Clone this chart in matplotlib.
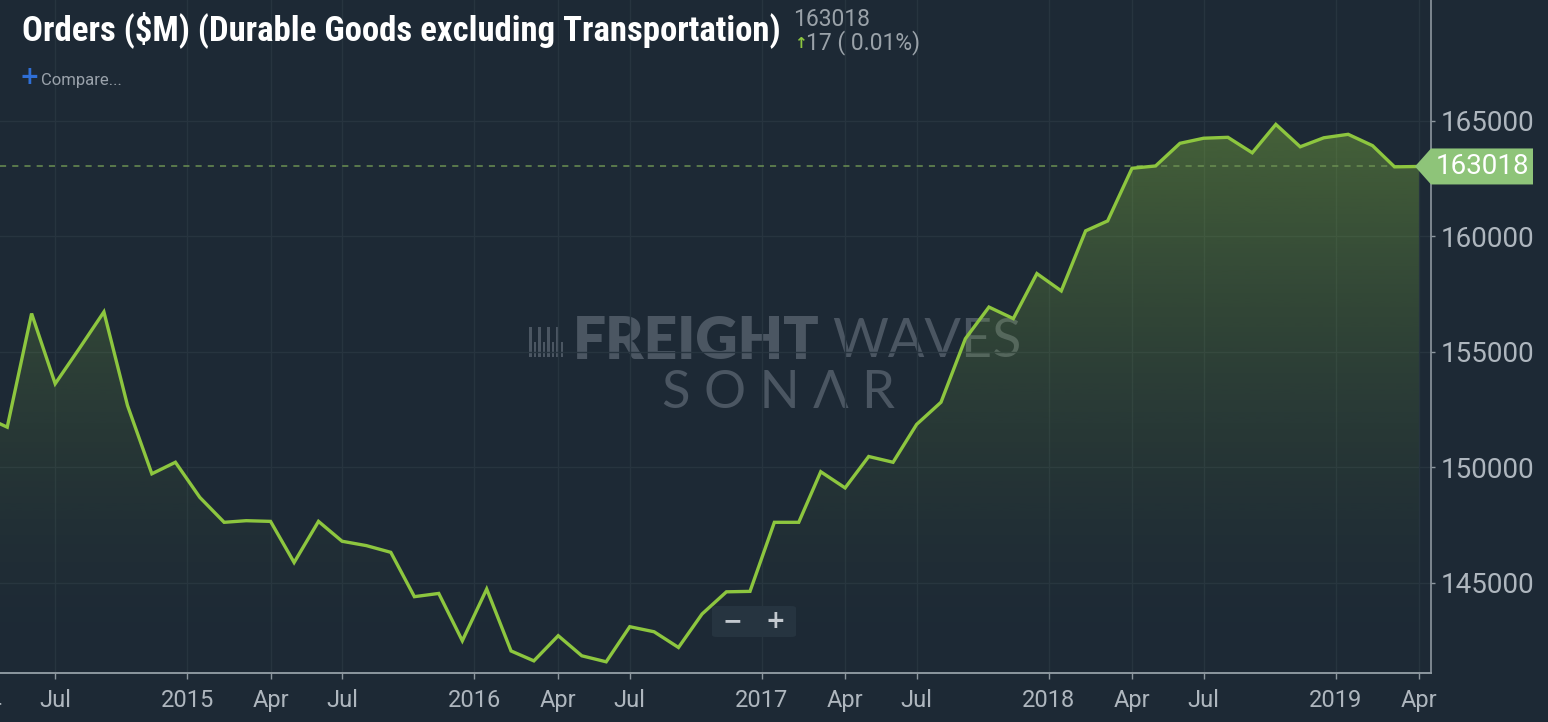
import matplotlib
matplotlib.use('Agg')
import matplotlib.pyplot as plt
import matplotlib.dates as mdates
import numpy as np
import pandas as pd
from matplotlib import font_manager
from matplotlib.patches import Polygon, Rectangle, FancyBboxPatch
from matplotlib.transforms import blended_transform_factory

# monthly orders, $M (durable goods ex transportation), Apr 2014 .. Apr 2019
months = pd.date_range('2014-04-01', '2019-04-01', freq='MS')
orders = [
    152200, 151730, 156650, 153610, 155150, 156720, 152670, 149710, 150210,
    148690, 147610, 147680, 147650, 145870, 147650, 146790, 146600, 146310, 144390, 144530, 142480,
    144720, 142040, 141610, 142700, 141830, 141570, 143090, 142870, 142190, 143640, 144600, 144620,
    147610, 147610, 149800, 149100, 150460, 150210, 151850, 152810, 155560, 156930, 156430, 158380,
    157630, 160230, 160660, 162940, 163040, 164020, 164240, 164280, 163610, 164840, 163870, 164260,
    164410, 163920, 163001, 163018,
]
last_value = 163018
change = 17
change_pct = 0.01

month_tick_dates = ['2014-07-01', '2015-04-01', '2015-07-01', '2016-04-01', '2016-07-01',
                    '2017-04-01', '2017-07-01', '2018-04-01', '2018-07-01', '2019-04-01']
month_tick_labels = ['Jul', 'Apr', 'Jul', 'Apr', 'Jul', 'Apr', 'Jul', 'Apr', 'Jul', 'Apr']
year_ticks = [2015, 2016, 2017, 2018, 2019]
y_ticks = [145000, 150000, 155000, 160000, 165000]

BG = '#1d2935'
GRID = '#27343f'
GREEN = '#8dc63f'
TICK_TXT = '#aeb6be'

W, H = 1548, 722
fig = plt.figure(figsize=(W / 100, H / 100), dpi=100, facecolor=BG)
ax = fig.add_axes([0, (H - 673) / H, 1431 / W, 673 / H])
ax.set_facecolor(BG)


def pick_narrow_bold():
    best = None
    for f in font_manager.fontManager.ttflist:
        wt = f.weight if isinstance(f.weight, int) else font_manager.weight_dict.get(f.weight, 400)
        narrow = ('Narrow' in f.name or 'Condensed' in f.name or
                  f.stretch in ('condensed', 'semi-condensed', 'extra-condensed', 'ultra-condensed'))
        if narrow and wt >= 600 and f.style == 'normal':
            rank = 0 if 'Roboto' in f.name else 1 if 'Liberation' in f.name else 2
            if best is None or rank < best[0]:
                best = (rank, f.fname)
    if best:
        return font_manager.FontProperties(fname=best[1])
    return font_manager.FontProperties(family='Roboto', weight='bold')


x = mdates.date2num(months)
y = np.array(orders, dtype=float)

x_ref = mdates.date2num(pd.Timestamp('2014-07-01'))
xmin, xmax = x_ref - 70.2, x_ref + 1750.4
ymin, ymax = 141085, 170226

# gradient area under the line
verts = np.column_stack([np.r_[x[0], x, x[-1]], np.r_[ymin, y, ymin]])
poly = Polygon(verts, closed=True, facecolor='none', edgecolor='none')
ax.add_patch(poly)
t = np.linspace(0, 1, 256)[:, None]
rgba = np.zeros((256, 1, 4))
rgba[..., :3] = matplotlib.colors.to_rgb(GREEN)
rgba[..., 3] = 0.36 * t ** 1.6
im = ax.imshow(rgba, extent=[x[0], x[-1], ymin, max(orders)], origin='lower',
               aspect='auto', zorder=1, interpolation='bilinear')
im.set_clip_path(poly)

ax.plot(x, y, color=GREEN, lw=2.4, zorder=3, solid_joinstyle='miter')

# ticks (set before the limits: set_xticks widens the view otherwise)
tick_pos = list(mdates.date2num(pd.to_datetime(month_tick_dates)))
tick_lab = list(month_tick_labels)
for yr in year_ticks:
    tick_pos.append(mdates.date2num(pd.Timestamp(f'{yr}-01-01')) - 16)
    tick_lab.append(str(yr))
order = np.argsort(tick_pos)
ax.set_xticks(np.array(tick_pos)[order])
ax.set_xticklabels(np.array(tick_lab)[order])
ax.set_yticks(y_ticks)
ax.set_yticklabels([str(v) for v in y_ticks])

ax.set_xlim(xmin, xmax)
ax.set_ylim(ymin, ymax)

ax.yaxis.tick_right()
ax.tick_params(axis='x', colors='#8d979f', length=4.3, width=1, pad=7, labelsize=17,
               labelcolor=TICK_TXT)
ax.tick_params(axis='y', colors='#8d979f', length=3, width=1, pad=4, labelsize=20,
               labelcolor=TICK_TXT)
for lab in ax.get_xticklabels() + ax.get_yticklabels():
    lab.set_family('Roboto')

# the Apr 2014 label sits half outside the left edge
apr14 = mdates.date2num(pd.Timestamp('2014-04-01'))
ax.text(apr14, -0.0375, 'Apr', transform=blended_transform_factory(ax.transData, ax.transAxes),
        ha='center', va='top', fontsize=17, family='Roboto', color=TICK_TXT, clip_on=False)

ax.grid(True, color=GRID, lw=1, zorder=0)
ax.set_axisbelow(True)
for s in ['top', 'left']:
    ax.spines[s].set_visible(False)
ax.spines['bottom'].set_color('#8d979f')
ax.spines['right'].set_color('#8d979f')
ax.spines['bottom'].set_linewidth(1.4)
ax.spines['right'].set_linewidth(1.2)

# last value dashed line + label
ax.axhline(last_value, xmin=0, xmax=1415 / 1431, color='#6a8f52', lw=1.1,
           dashes=(4, 4), zorder=2)
bt = blended_transform_factory(ax.transAxes, ax.transData)
hh = 18 * (ymax - ymin) / 673
tag = Polygon([(1415 / 1431, last_value), (1.0, last_value + hh), (1533 / 1431, last_value + hh),
               (1533 / 1431, last_value - hh), (1.0, last_value - hh)],
              closed=True, facecolor='#8ec479', edgecolor='none', transform=bt, clip_on=False, zorder=5)
ax.add_patch(tag)
ax.text(1436 / 1431, last_value, f'{last_value}', transform=bt, ha='left', va='center',
        fontsize=20, color='white', family='Roboto', zorder=6, clip_on=False)

# watermark
wm = '#4b5662'
def fx(px):
    return px / W
def fy(py):
    return 1 - py / H

for i in range(8):
    hgt = 0.5 if i % 2 else 1.0
    ax.add_patch(Rectangle((fx(529 + i * 4.5), fy(357)), 2.6 / W, 30 * hgt / H,
                           transform=fig.transFigure, facecolor=wm, edgecolor='none',
                           zorder=0.5, clip_on=False))
t_fr = ax.text(fx(573), fy(342), 'FREIGHT', transform=fig.transFigure, ha='left', va='center',
               fontsize=30, fontweight='heavy', family=['Lato', 'DejaVu Sans'], color=wm,
               zorder=0.5, clip_on=False)
t_wv = ax.text(fx(832), fy(342), 'WAVES', transform=fig.transFigure, ha='left', va='center',
               fontsize=30, fontweight='normal', family=['Lato', 'DejaVu Sans'], color=wm,
               zorder=0.5, clip_on=False)
t_so = ax.text(fx(662), fy(394), 'S O N Λ R', transform=fig.transFigure, ha='left', va='center',
               fontsize=30, fontweight='normal', family=['Lato', 'DejaVu Sans'], color=wm,
               zorder=0.5, clip_on=False)

# header texts
title = fig.text(fx(22), fy(30), 'Orders ($M) (Durable Goods excluding Transportation)',
                 ha='left', va='center', fontproperties=pick_narrow_bold(), color='white')
title.set_fontsize(25)
fig.text(fx(793), fy(19), f'{last_value}', ha='left', va='center', fontsize=16.5,
         family='Roboto', color='#9aa2a9')
fig.text(fx(794), fy(44), '↑', ha='left', va='center', fontsize=11, fontweight='bold',
         family='DejaVu Sans', color=GREEN)
fig.text(fx(806), fy(43), f'{change} ( {change_pct:.2f}%)', ha='left', va='center', fontsize=16.5,
         family='Roboto', color='#9aa2a9')
fig.text(fx(20), fy(77), '+', ha='left', va='center', fontsize=17, fontweight='bold',
         family='DejaVu Sans', color='#2f6fd6')
fig.text(fx(41), fy(80), 'Compare...', ha='left', va='center', fontsize=12,
         family='Roboto', color='#9aa2ab')

# zoom buttons
btn = FancyBboxPatch((fx(712), fy(637)), 84 / W, 31 / H, boxstyle='round,pad=0,rounding_size=0.003',
                     transform=fig.transFigure, facecolor='#263440', edgecolor='none', zorder=7)
fig.patches.append(btn)
fig.text(fx(732), fy(621), '−', ha='center', va='center', fontsize=17, fontweight='bold',
         family='DejaVu Sans', color='#c3c9cf', zorder=8)
fig.text(fx(775), fy(621), '+', ha='center', va='center', fontsize=17, fontweight='bold',
         family='DejaVu Sans', color='#c3c9cf', zorder=8)
fig.lines.append(matplotlib.lines.Line2D([fx(756), fx(756)], [fy(612), fy(631)],
                                         transform=fig.transFigure, color='#3a4855', lw=1))

# size texts to the reference widths
renderer = fig.canvas.get_renderer()
for txt, width in [(title, 760), (t_fr, 246), (t_wv, 189), (t_so, 232)]:
    w = txt.get_window_extent(renderer).width
    txt.set_fontsize(txt.get_fontsize() * width / w)

fig.savefig('out.png', dpi=100, facecolor=BG)
